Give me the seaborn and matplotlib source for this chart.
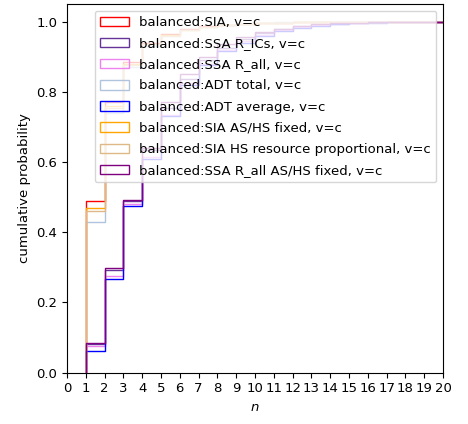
import numpy as np
import pandas as pd
import matplotlib
matplotlib.use("Agg")
import matplotlib.pyplot as plt
from matplotlib.patches import Patch
import seaborn as sns

plt.rcParams["font.size"] = 9.5

n_values = list(range(1, 21))

labels = [
    "balanced:SIA, v=c",
    "balanced:SSA R_ICs, v=c",
    "balanced:SSA R_all, v=c",
    "balanced:ADT total, v=c",
    "balanced:ADT average, v=c",
    "balanced:SIA AS/HS fixed, v=c",
    "balanced:SIA HS resource proportional, v=c",
    "balanced:SSA R_all AS/HS fixed, v=c",
]
colors = ["red", "rebeccapurple", "violet", "lightsteelblue", "blue",
          "orange", "burlywood", "purple"]

# cumulative probabilities, for n = 1..20
cdf_sia = [0.490, 0.770, 0.885, 0.940, 0.965, 0.978, 0.986, 0.991, 0.994, 0.996,
           0.997, 0.998, 0.999, 1.0, 1.0, 1.0, 1.0, 1.0, 1.0, 1.0]
cdf_ssa_rics = [0.082, 0.293, 0.488, 0.635, 0.755, 0.835, 0.890, 0.925, 0.950, 0.967,
                0.978, 0.986, 0.991, 0.994, 0.996, 0.998, 0.999, 0.9995, 1.0, 1.0]
cdf_ssa_rall = [0.077, 0.276, 0.481, 0.615, 0.735, 0.825, 0.880, 0.920, 0.945, 0.963,
                0.975, 0.984, 0.990, 0.993, 0.996, 0.998, 0.999, 0.9995, 1.0, 1.0]
cdf_adt_total = [0.430, 0.740, 0.870, 0.930, 0.960, 0.975, 0.985, 0.990, 0.994, 0.996,
                 0.998, 0.999, 1.0, 1.0, 1.0, 1.0, 1.0, 1.0, 1.0, 1.0]
cdf_adt_avg = [0.063, 0.268, 0.474, 0.610, 0.730, 0.820, 0.875, 0.915, 0.940, 0.960,
               0.973, 0.982, 0.988, 0.992, 0.995, 0.997, 0.998, 0.999, 1.0, 1.0]
cdf_sia_fixed = [0.470, 0.760, 0.880, 0.935, 0.962, 0.976, 0.985, 0.990, 0.994, 0.996,
                 0.997, 0.998, 0.999, 1.0, 1.0, 1.0, 1.0, 1.0, 1.0, 1.0]
cdf_sia_hs = [0.460, 0.755, 0.875, 0.935, 0.960, 0.975, 0.984, 0.990, 0.993, 0.995,
              0.997, 0.998, 0.999, 1.0, 1.0, 1.0, 1.0, 1.0, 1.0, 1.0]
cdf_ssa_rall_fixed = [0.085, 0.298, 0.491, 0.640, 0.770, 0.850, 0.900, 0.935, 0.955, 0.970,
                      0.980, 0.987, 0.992, 0.995, 0.997, 0.998, 0.999, 0.9995, 1.0, 1.0]

series = [cdf_sia, cdf_ssa_rics, cdf_ssa_rall, cdf_adt_total, cdf_adt_avg,
          cdf_sia_fixed, cdf_sia_hs, cdf_ssa_rall_fixed]

fig = plt.figure(figsize=(4.68, 4.24), dpi=100)
ax = fig.add_axes([67 / 468, (424 - 372.7) / 424, (443 - 67) / 468, (372.7 - 4) / 424])

for cdf, lab, col in zip(series, labels, colors):
    weights = np.diff(np.r_[0.0, cdf])
    df = pd.DataFrame({"n": n_values, "w": weights})
    sns.ecdfplot(data=df, x="n", weights="w", stat="proportion",
                 color=col, linewidth=1.0, ax=ax)

ax.set_xlim(0, 20)
ax.set_ylim(0, 1.05)
ax.set_xticks(range(0, 21))
ax.set_yticks([0.0, 0.2, 0.4, 0.6, 0.8, 1.0])
ax.set_xlabel("$n$")
ax.set_ylabel("cumulative probability")

handles = [Patch(facecolor="none", edgecolor=c, linewidth=1.0, label=l)
           for l, c in zip(labels, colors)]
ax.legend(handles=handles, loc="upper right", labelspacing=0.62,
          handlelength=2.2, handleheight=0.72)

fig.savefig("out.png", dpi=100)
